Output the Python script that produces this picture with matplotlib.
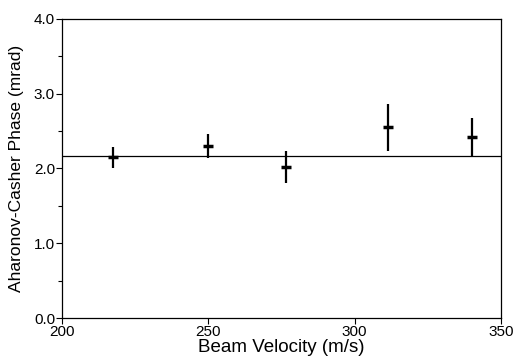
import matplotlib.pyplot as plt
from matplotlib.ticker import MultipleLocator

# beam velocity (m/s) and measured phase (mrad) with error half-widths
velocity = [217.5, 250.0, 276.5, 311.5, 340.0]
phase = [2.15, 2.30, 2.02, 2.55, 2.42]
phase_err = [0.14, 0.16, 0.22, 0.31, 0.26]
mean_phase = 2.17

plt.rcParams['font.family'] = ['Liberation Sans', 'DejaVu Sans']

fig = plt.figure(figsize=(5.15, 3.56), dpi=100)
ax = fig.add_axes([0.1204, 0.1067, 0.8524, 0.84])

ax.errorbar(velocity, phase, yerr=phase_err, fmt='_', color='black',
            markersize=7, markeredgewidth=2.5, elinewidth=1.6, capsize=0)
ax.axhline(mean_phase, color='black', linewidth=0.9)

ax.set_xlim(200, 350)
ax.set_ylim(0, 4.0)
ax.xaxis.set_major_locator(MultipleLocator(50))
ax.yaxis.set_major_locator(MultipleLocator(1.0))
ax.yaxis.set_minor_locator(MultipleLocator(0.5))
ax.yaxis.set_major_formatter(plt.FormatStrFormatter('%.1f'))

ax.tick_params(axis='both', which='major', direction='out', length=4,
               width=0.8, labelsize=11, pad=1)
ax.tick_params(axis='y', which='minor', direction='out', length=3, width=0.8)
for s in ax.spines.values():
    s.set_linewidth(0.9)

ax.set_xlabel('Beam Velocity (m/s)', fontsize=13.5, labelpad=0)
ax.set_ylabel('Aharonov-Casher Phase (mrad)', fontsize=12.5, labelpad=7)

fig.savefig('out.png', dpi=100)
